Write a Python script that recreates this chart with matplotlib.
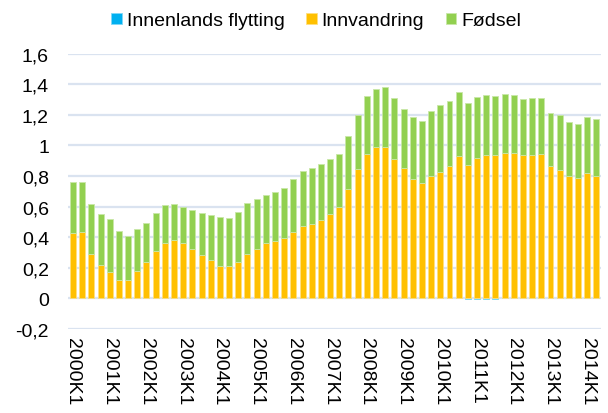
import numpy as np
import matplotlib.pyplot as plt

plt.rcParams['font.family'] = ['Liberation Sans', 'DejaVu Sans']

# Kvartaler 2000K1 - 2014K2
perioder = [f'{aar}K{k}' for aar in range(2000, 2015) for k in range(1, 5)][:58]

# Bidrag til befolkningsvekst (prosent)
innenlands = [0.0] * 43 + [-0.005, -0.005, -0.005, -0.005] + [0.0] * 11
innvandring = [0.430, 0.435, 0.293, 0.220, 0.174, 0.120, 0.120, 0.176, 0.239, 0.309,
               0.361, 0.380, 0.359, 0.322, 0.283, 0.248, 0.213, 0.209, 0.241, 0.289,
               0.326, 0.359, 0.374, 0.396, 0.433, 0.470, 0.483, 0.511, 0.553, 0.596,
               0.717, 0.843, 0.946, 0.987, 0.989, 0.909, 0.850, 0.783, 0.752, 0.802,
               0.826, 0.865, 0.928, 0.872, 0.920, 0.939, 0.939, 0.952, 0.952, 0.939,
               0.939, 0.946, 0.863, 0.841, 0.802, 0.789, 0.820, 0.798]
fodsel = [0.331, 0.326, 0.324, 0.332, 0.343, 0.323, 0.291, 0.278, 0.254, 0.250,
          0.250, 0.235, 0.241, 0.258, 0.275, 0.298, 0.317, 0.319, 0.326, 0.333,
          0.322, 0.319, 0.324, 0.326, 0.345, 0.360, 0.367, 0.369, 0.355, 0.350,
          0.346, 0.353, 0.374, 0.385, 0.396, 0.400, 0.385, 0.400, 0.409, 0.420,
          0.439, 0.424, 0.418, 0.406, 0.395, 0.391, 0.383, 0.381, 0.378, 0.365,
          0.370, 0.363, 0.350, 0.359, 0.350, 0.348, 0.369, 0.374]

x = np.arange(len(perioder))
bredde = 0.65

fig = plt.figure(figsize=(6.08, 4.14), dpi=100)
ax = fig.add_axes([0.1125, 0.203, 0.876, 0.665])

ax.bar(x, innenlands, bredde, color='#00B0F0', edgecolor='#7FD7F7', linewidth=0.6,
       label='Innenlands flytting', zorder=3)
ax.bar(x, innvandring, bredde, color='#FFC000', edgecolor='#FFDF80', linewidth=0.6,
       label='Innvandring', zorder=3)
ax.bar(x, fodsel, bredde, bottom=innvandring, color='#92D050', edgecolor='#C8E7A7',
       linewidth=0.6, label='Fødsel', zorder=3)

ax.set_xlim(-0.5, len(perioder) - 0.5)
ax.set_ylim(-0.2, 1.6)
yt = np.arange(-0.2, 1.61, 0.2)
ax.set_yticks(yt)
ax.set_yticklabels([f'{v:.1f}'.replace('.', ',').replace('1,0', '1').replace('0,0', '0')
                    for v in yt])
ax.set_xticks(x[::4])
ax.set_xticklabels(perioder[::4], rotation=270, va='top', ha='center')
ax.tick_params(axis='both', length=0, labelsize=14, colors='black')
ax.tick_params(axis='y', pad=14)
ax.tick_params(axis='x', pad=6)

ax.grid(axis='y', color='#DAE3F0', linewidth=1.6, zorder=0)
for s in ax.spines.values():
    s.set_visible(False)

fig.legend(loc='upper center', bbox_to_anchor=(0.52, 1.01), ncol=3, frameon=False,
           fontsize=14, handlelength=0.55, handleheight=0.55, handletextpad=0.25,
           columnspacing=1.1)

fig.savefig('out.png', dpi=100)
